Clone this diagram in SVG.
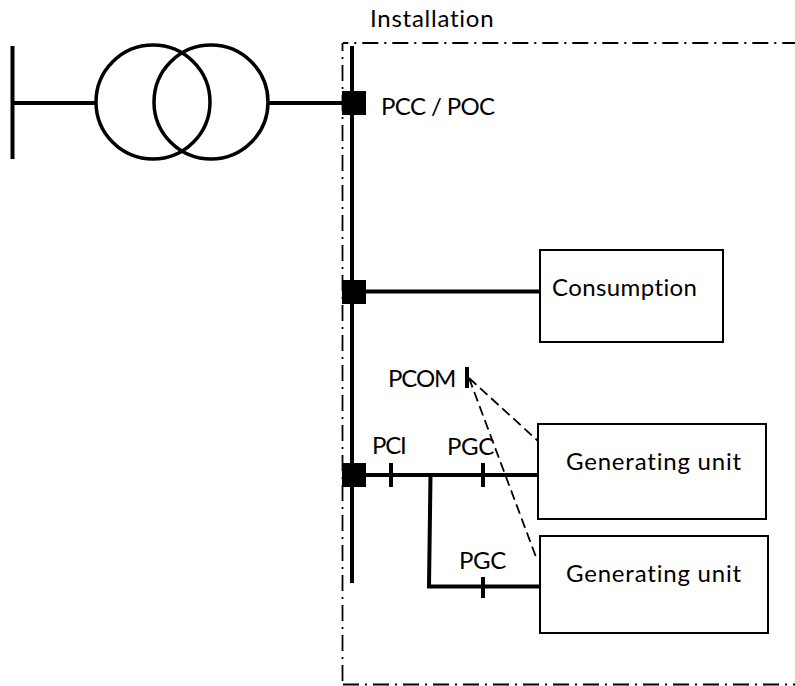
<svg xmlns="http://www.w3.org/2000/svg" width="795" height="686" viewBox="0 0 795 686">
<style>
.w{fill:none;stroke:#000;stroke-width:4}
.t{fill:none;stroke:#000;stroke-width:3.5}
.b{fill:#fff;stroke:#000;stroke-width:2}
.s{fill:#000}
.d{fill:none;stroke:#000;stroke-width:1.8;stroke-dasharray:10 5}
.f{fill:none;stroke:#000;stroke-width:1.8;stroke-dasharray:16 6 2 6}
text{font-family:"Lato","Carlito","Liberation Sans",sans-serif;font-size:24px;fill:#000}
.g{letter-spacing:.8px}
.c{letter-spacing:-.3px}
</style>
<rect width="795" height="686" fill="#fff"/>
<g id="installation">
<path class="f" stroke-dashoffset="10.700" d="M343 43H795"/>
<path class="f" stroke-dashoffset="8" d="M342.500 43V685"/>
<path class="f" d="M343 684.500H795"/>
<text x="370" y="27" letter-spacing=".75">Installation</text></g>
<g id="connectors">
<path class="w" d="M12.500 46V159M13 103H96M269 103H352M352 46V583M352 291.500H540M352 475H538M430.500 475L429 586.500H540"/>
<path class="w" d="M391 463V487M483 463V487M483 577V598"/>
<path class="w" d="M467 367V388"/>
<path class="d" d="M469 378L538 441M469 378L536 557"/>
</g>
<g id="transformer"><circle class="t" cx="153" cy="102" r="57"/><circle class="t" cx="211" cy="102" r="57"/></g>
<g id="pcc"><rect class="s" x="342" y="91" width="24" height="24"/><text x="381" y="115" letter-spacing="-.6">PCC / POC</text></g>
<g id="junction-consumption"><rect class="s" x="342" y="280" width="24" height="24"/></g>
<g id="junction-generation"><rect class="s" x="342" y="463" width="24" height="24"/></g>
<g id="consumption"><rect class="b" x="540" y="250" width="183" height="92"/><text x="552" y="296" letter-spacing=".4">Consumption</text></g>
<g id="unit1"><rect class="b" x="538" y="424" width="228" height="95"/><text class="g" x="566" y="470">Generating unit</text></g>
<g id="unit2"><rect class="b" x="540" y="536" width="228" height="97"/><text class="g" x="566" y="582">Generating unit</text></g>
<g id="labels"><text x="388" y="387" letter-spacing="-1.100">PCOM</text><text x="372" y="454" letter-spacing="-1.200">PCI</text><text class="c" x="447" y="455">PGC</text><text class="c" x="459" y="569">PGC</text></g>
</svg>
